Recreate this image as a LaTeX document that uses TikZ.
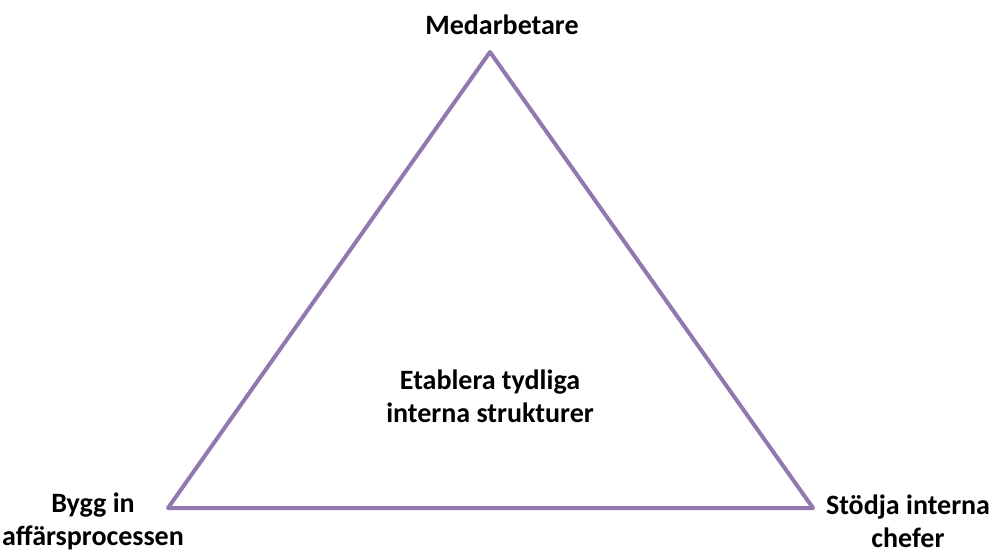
\documentclass[tikz,border=0pt]{standalone}
\usepackage{fontspec}
\setmainfont{Carlito}
\definecolor{tri}{HTML}{9179B0}
\begin{document}
\begin{tikzpicture}[x=1pt,y=-1pt,
  lbl/.style={font=\bfseries\fontsize{28}{33}\selectfont, align=center, inner sep=0pt, text=black},
  edge/.style={draw=tri, line width=4pt, line join=round}]
\useasboundingbox (0,0) rectangle (998,554);
\coordinate (top) at (490,52);
\coordinate (bl) at (168,508);
\coordinate (br) at (813,508);
\draw[edge] (top) -- (bl) -- (br) -- cycle;
\node[lbl] (med) at (502,25) {Medarbetare};
\node[lbl] (bygg) at (93,521) {Bygg in\\affärsprocessen};
\node[lbl] (stod) at (908,521) {Stödja interna\\chefer};
\node[lbl] (etab) at (490,396) {Etablera tydliga\\interna strukturer};
\end{tikzpicture}
\end{document}
